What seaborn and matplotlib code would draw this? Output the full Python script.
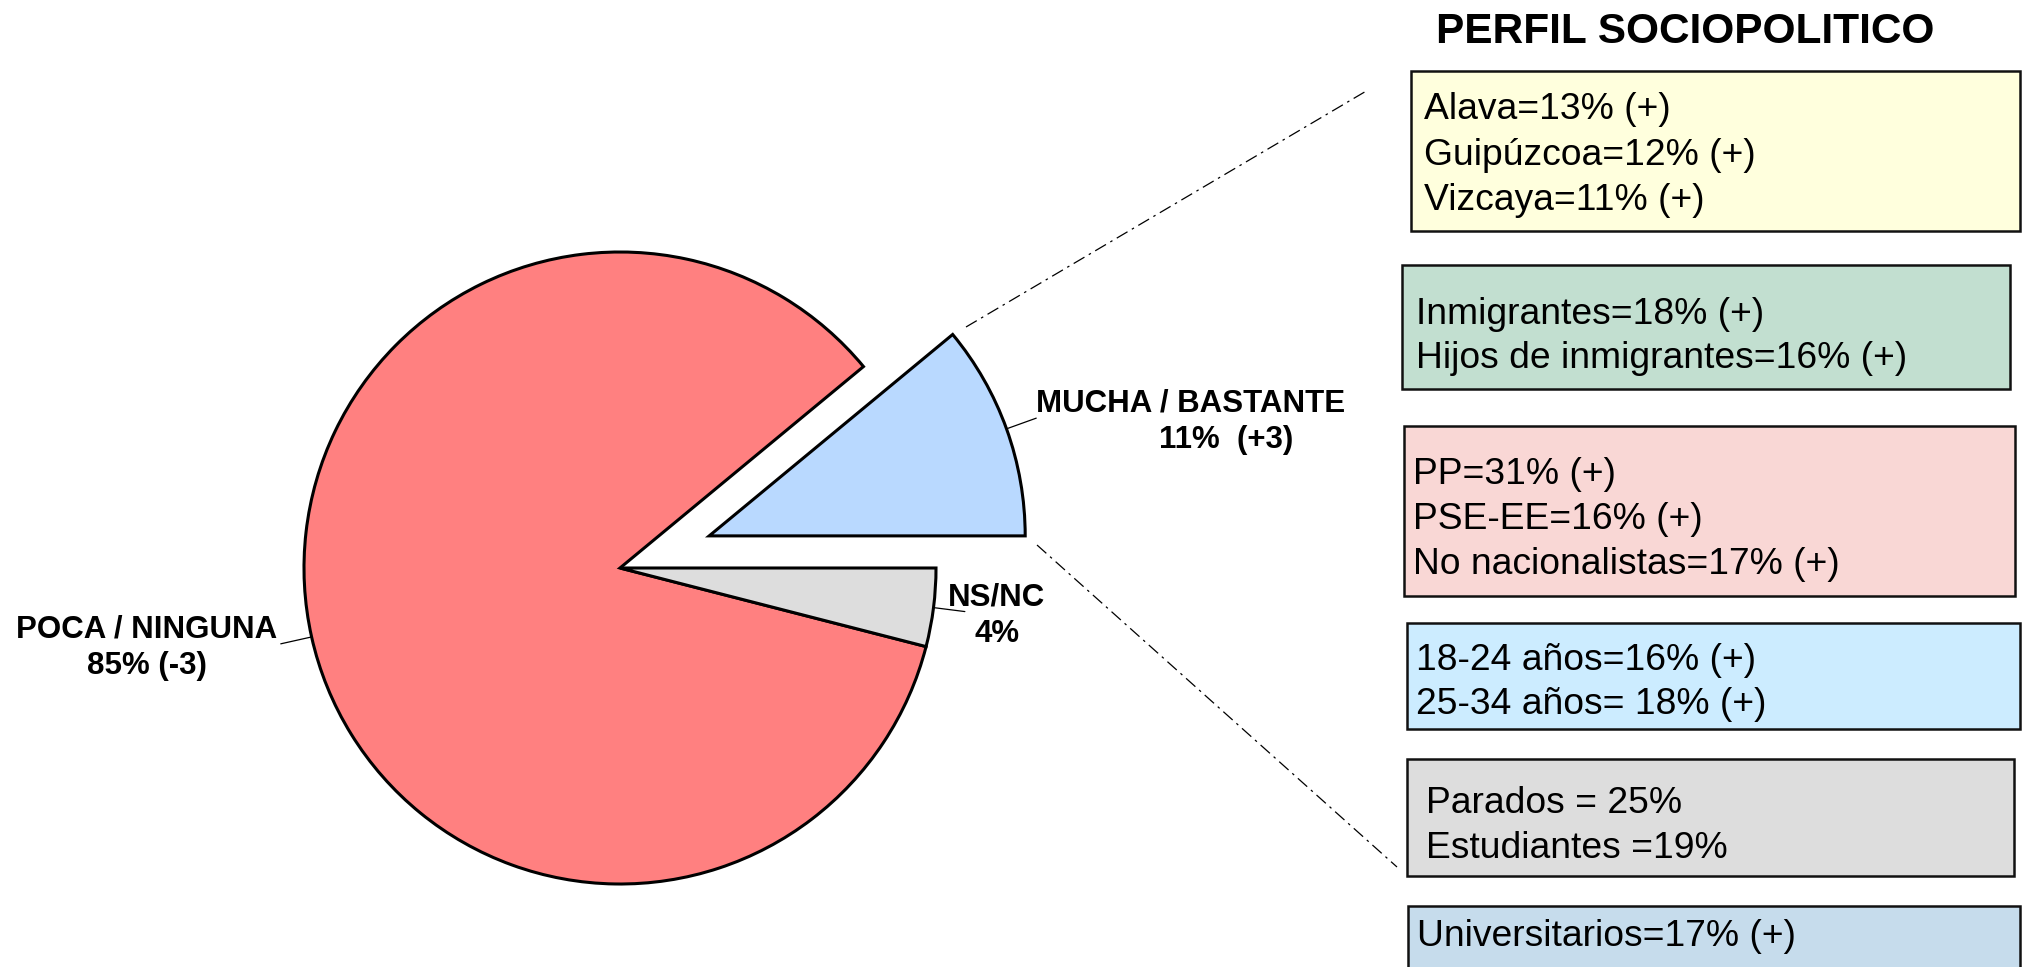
import numpy as np
import matplotlib
matplotlib.use("Agg")
import matplotlib.pyplot as plt
import seaborn as sns
from matplotlib.patches import Rectangle

# datos del grafico
categorias = ["MUCHA / BASTANTE", "POCA / NINGUNA", "NS/NC"]
porcentajes = [11, 85, 4]
etiquetas_valor = ["11%  (+3)", "85% (-3)", "4%"]
colores = ["#B9D9FF", "#FF8080", "#DDDDDD"]

titulo_panel = "PERFIL SOCIOPOLITICO"
perfil_textos = [
    ["Alava=13% (+)", "Guipúzcoa=12% (+)", "Vizcaya=11% (+)"],
    ["Inmigrantes=18% (+)", "Hijos de inmigrantes=16% (+)"],
    ["PP=31% (+)", "PSE-EE=16% (+)", "No nacionalistas=17% (+)"],
    ["18-24 años=16% (+)", "25-34 años= 18% (+)"],
    ["Parados = 25%", "Estudiantes =19%"],
    ["Universitarios=17% (+)"],
]
perfil_colores = ["#FFFFDD", "#C2DFD0", "#F9D7D5", "#CCECFF", "#DDDDDD", "#C6DCEC"]

# layout (pixeles, y hacia abajo)
W, H = 2024, 967
cajas = [(1411, 71, 2020, 231), (1402, 265, 2010, 389), (1404, 426, 2015, 596),
         (1407, 623, 2020, 729), (1407, 759, 2014, 876), (1408, 906, 2020, 990)]
lineas_y = [[106, 152, 197], [311, 355], [471, 516, 561], [657, 701], [800, 845], [933]]
texto_x = [1424, 1416, 1413, 1416, 1426, 1417]

def Y(y):
    return H - y

sns.set_theme(style="white")
plt.rcParams['font.family'] = ['Liberation Sans', 'DejaVu Sans']
plt.rcParams['text.color'] = 'black'

fig = plt.figure(figsize=(W / 100, H / 100), dpi=100)
ax = fig.add_axes([0, 0, 1, 1])

centro = (620, Y(568))
radio = 316
wedges, _ = ax.pie(porcentajes, colors=colores, startangle=0, counterclock=True,
                   explode=[0.3 * radio, 0, 0], radius=radio, center=centro,
                   wedgeprops=dict(edgecolor="black", linewidth=2.2))
ax.set_xlim(0, W)
ax.set_ylim(0, H)
ax.set_aspect("equal")
ax.axis("off")

# lineas guia de las etiquetas
for w in wedges:
    ang = np.deg2rad((w.theta1 + w.theta2) / 2)
    cx, cy = w.center
    r = w.r
    ax.plot([cx + r * np.cos(ang), cx + 1.1 * r * np.cos(ang)],
            [cy + r * np.sin(ang), cy + 1.1 * r * np.sin(ang)],
            color="black", lw=0.9)

kw = dict(fontsize=22.5, fontweight="bold", color="black")
ax.text(1036, Y(403), categorias[0], ha="left", va="center", **kw)
ax.text(1226, Y(440), etiquetas_valor[0], ha="center", va="center", **kw)
ax.text(147, Y(648), categorias[1] + "\n" + etiquetas_valor[1], ha="center", va="center",
        multialignment="center", linespacing=1.3, **kw)
ax.text(997, Y(616), categorias[2] + "\n" + etiquetas_valor[2], ha="center", va="center",
        multialignment="center", linespacing=1.3, **kw)

# lineas de conexion con el panel
estilo = dict(color="black", lw=0.9, linestyle=(0, (10, 4, 2, 4)))
ax.plot([966, 1368], [Y(327), Y(90)], **estilo)
ax.plot([1037, 1397], [Y(545), Y(867)], **estilo)

# panel de perfil
ax.text(1685, Y(32), titulo_panel, ha="center", va="center", fontsize=30.5,
        fontweight="bold", color="black")
for (x0, y0, x1, y1), col, lineas, ys, tx in zip(cajas, perfil_colores, perfil_textos, lineas_y, texto_x):
    ax.add_patch(Rectangle((x0, Y(y1)), x1 - x0, y1 - y0, facecolor=col, edgecolor="#111111",
                           lw=1.8, clip_on=False))
    for t, yy in zip(lineas, ys):
        ax.text(tx, Y(yy + 13), t, ha="left", va="baseline", fontsize=26.8, color="black")

fig.savefig("out.png", dpi=100)
